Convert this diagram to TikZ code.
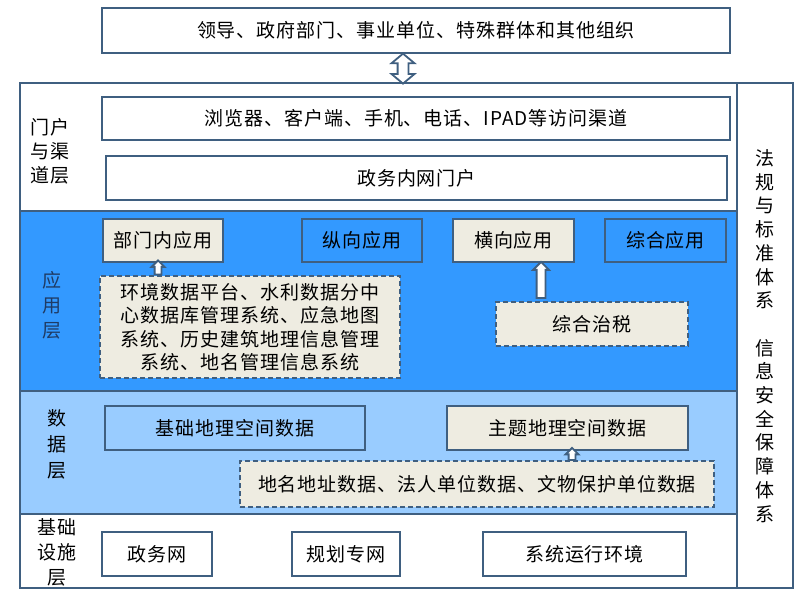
\documentclass[tikz,border=0pt]{standalone}
\usepackage{fontspec}
\setmainfont[LetterSpace=5]{Noto Sans CJK SC}
\usetikzlibrary{arrows.meta,positioning,calc,shapes.arrows}
\definecolor{mSlate}{HTML}{3F5F80}
\definecolor{mApp}{HTML}{3399FF}
\definecolor{mData}{HTML}{99CCFF}
\definecolor{mBeige}{HTML}{EEECE1}
\definecolor{mNavy}{HTML}{1F3B64}
\tikzset{
  bx/.style    = {draw=mSlate, line width=2.5pt, fill=white, inner sep=0pt,
                  font=\fontsize{19}{23}\selectfont},
  bxb/.style   = {bx, fill=mBeige},
  bxa/.style   = {bx, fill=mApp},
  bxd/.style   = {bx, fill=mData},
  bxdash/.style= {bxb, line width=1.8pt, dash pattern=on 5pt off 3pt},
  lyr/.style   = {align=center, inner sep=0pt, font=\fontsize{19}{24}\selectfont},
  harr/.style  = {single arrow, shape border rotate=90, draw=mSlate, fill=white,
                  line width=1.8pt, inner sep=3.5pt, single arrow head extend=3.5pt,
                  single arrow tip angle=90},
}
\begin{document}
\begin{tikzpicture}[x=1pt, y=-1pt]
  \useasboundingbox (0,0) rectangle (803,596);
  % layer bands
  \fill[white] (20,83) rectangle (793,588);
  \fill[mApp]  (20,211) rectangle (737,391);
  \fill[mData] (20,391) rectangle (737,514);
  \draw[mSlate, line width=2.5pt] (20,211) -- (737,211);
  \draw[mSlate, line width=2.5pt] (20,391) -- (737,391);
  \draw[mSlate, line width=2pt] (20,514) -- (737,514);
  \draw[mSlate, line width=2pt] (737,83) -- (737,588);
  \draw[mSlate, line width=2.5pt] (20,83) rectangle (793,588);

  % top
  \node[bx, minimum width=628, minimum height=45] (users) at (416,30.5)
       {领导、政府部门、事业单位、特殊群体和其他组织};
  \coordinate (frametop) at (403,83);
  \node[harr, double arrow, inner sep=4.5pt, double arrow head extend=6pt,
        double arrow tip angle=100, shape border rotate=90, minimum width=21,
        minimum height=30] (uarr) at ($(users.south -| frametop)!0.5!(frametop)$) {};

  % portal and channel layer
  \node[lyr] (lportal) at (50,151) {门户\\与渠\\道层};
  \node[bx, minimum width=628, minimum height=43] (chan) at (416,118.5)
       {浏览器、客户端、手机、电话、IPAD等访问渠道};
  \node[bx, minimum width=621, minimum height=44] (portal) at (416.5,178)
       {政务内网门户};

  % application layer
  \node[lyr, text=mNavy, font=\fontsize{19}{25}\selectfont] (lapp) at (52,305) {应\\用\\层};
  \node[bxb, minimum width=120, minimum height=43] (bmn) at (163,240.5) {部门内应用};
  \node[bxa, minimum width=120, minimum height=43] (zxyy) at (362,240.5) {纵向应用};
  \node[bxb, minimum width=121, minimum height=43] (hxyy) at (513.5,240.5) {横向应用};
  \node[bxa, minimum width=121, minimum height=43] (zhyy) at (665.5,240.5) {综合应用};
  \node[bxdash, minimum width=300, minimum height=102, align=center,
        font=\fontsize{19}{23.5}\selectfont] (sys) at (250,327)
       {环境数据平台、水利数据分中\\心数据库管理系统、应急地图\\系统、历史建筑地理信息管理\\系统、地名管理信息系统};
  \node[bxdash, minimum width=192, minimum height=44] (zhzs) at (592,324) {综合治税};
  \node[harr, inner sep=2.5pt, minimum width=11, minimum height=14, single arrow head extend=3pt]
       (a1) at ($(sys.north -| 158,0)!0.5!(bmn.south -| 158,0)$) {};
  \node[harr, minimum width=15, minimum height=36]
       (a2) at ($(zhzs.north -| 541,0)!0.5!(hxyy.south -| 541,0)$) {};

  % data layer
  \node[lyr, font=\fontsize{19}{26}\selectfont] (ldata) at (57,444) {数\\据\\层};
  \node[bxd, minimum width=260, minimum height=44] (jcdl) at (235,428) {基础地理空间数据};
  \node[bxb, minimum width=241, minimum height=44] (ztdl) at (567.5,428) {主题地理空间数据};
  \node[bxdash, minimum width=474, minimum height=46] (dmdz) at (477,484)
       {地名地址数据、法人单位数据、文物保护单位数据};
  \node[harr, inner sep=2.5pt, minimum width=11, minimum height=12, single arrow head extend=3pt]
       (a3) at ($(dmdz.north -| 572,0)!0.5!(ztdl.south -| 572,0)$) {};

  % infrastructure layer
  \node[lyr, font=\fontsize{19}{25}\selectfont] (linfra) at (57,552) {基础\\设施\\层};
  \node[bx, minimum width=110, minimum height=44] (zww) at (157,554) {政务网};
  \node[bx, minimum width=108, minimum height=44] (ghzw) at (346,554) {规划专网};
  \node[bx, minimum width=203, minimum height=44] (xtyx) at (584.5,554) {系统运行环境};

  % right column
  \node[lyr, font=\fontsize{19}{23.7}\selectfont] (lstd) at (765,336)
       {法\\规\\与\\标\\准\\体\\系\\[23.7pt]信\\息\\安\\全\\保\\障\\体\\系};
\end{tikzpicture}
\end{document}
